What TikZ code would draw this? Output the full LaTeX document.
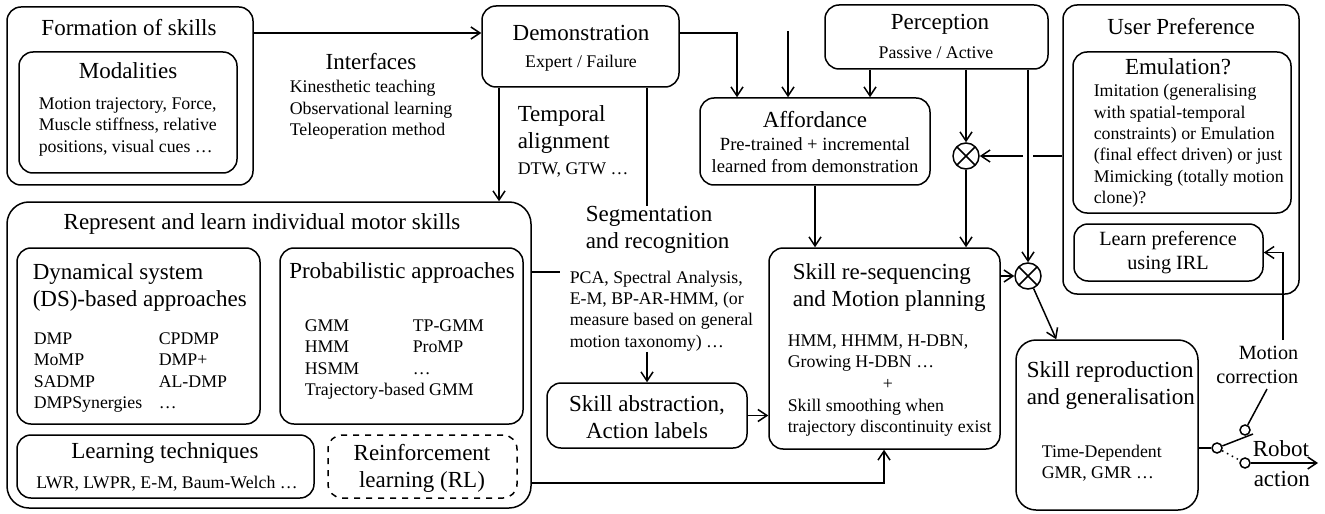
\documentclass[tikz,border=0pt]{standalone}
\usepackage{fontspec}
\setmainfont{Liberation Serif}
\usetikzlibrary{arrows.meta,fit,calc}

\tikzset{
  box/.style={draw, rounded corners=7pt, inner sep=0pt},
  head/.style={font=\fontsize{11.5}{13.5}\selectfont, align=center, inner sep=0pt},
  midtxt/.style={font=\fontsize{10.1}{12}\selectfont, align=center, inner sep=0pt},
  txt/.style={font=\fontsize{8.9}{10.7}\selectfont, align=left, inner sep=0pt},
  mix/.style={draw, circle, minimum size=13pt, inner sep=0pt,
    path picture={\draw (path picture bounding box.north west) -- (path picture bounding box.south east)
      (path picture bounding box.north east) -- (path picture bounding box.south west);}},
  contact/.style={draw, circle, minimum size=5pt, inner sep=0pt}
}

\begin{document}
\begin{tikzpicture}[x=0.5pt, y=-0.5pt, line width=0.75pt, >={Straight Barb[length=4.5pt,width=6pt]}]
\useasboundingbox (0,0) rectangle (1325,513);

% formation of skills
\node[box, fit={(7,7) (253,185)}] (form) {};
\node[head] (formT) at (129,28) {Formation of skills};
\node[box, fit={(19,52) (237,173)}] (modal) {};
\node[head] (modalT) at (128,71) {Modalities};
\node[txt, anchor=west] (modalL) at (38,127) {Motion trajectory, Force,\\Muscle stiffness, relative\\positions, visual cues …};
\node[head] (intT) at (371,62) {Interfaces};
\node[txt, anchor=west] (intL) at (289,110) {Kinesthetic teaching\\Observational learning\\Teleoperation method};

% demonstration
\node[box, fit={(482,6) (679,87)}] (demo) {};
\node[head] (demoT) at (581,33) {Demonstration};
\node[txt] (demoS) at (581,63) {Expert / Failure};
\node[head, align=left, anchor=west] (temp) at (517,130) {Temporal\\alignment};
\node[txt, anchor=west] (tempS) at (517,170) {DTW, GTW …};
\node[head, align=left, anchor=west] (seg) at (585,230) {Segmentation\\and recognition};
\node[txt, anchor=west] (pca) at (569,311) {PCA, Spectral Analysis,\\E-M, BP-AR-HMM, (or\\measure based on general\\motion taxonomy) …};

% affordance, perception
\node[box, fit={(700,98) (930,185)}] (aff) {};
\node[head] (affT) at (815,120) {Affordance};
\node[txt, align=center, font=\fontsize{9.3}{10.7}\selectfont] (affS) at (815,155) {Pre-trained + incremental\\learned from demonstration};
\node[box, fit={(825,5) (1048,69)}] (percep) {};
\node[head] (percepT) at (940,24) {Perception};
\node[txt] (percepS) at (936,53) {Passive / Active};
\node[mix] (c1) at (966,156) {};
\node[mix] (c2) at (1028,276) {};

% user preference
\node[box, fit={(1063,5) (1299,294)}] (upref) {};
\node[head] (uprefT) at (1181,27) {User Preference};
\node[box, fit={(1073,52) (1291,213)}] (emu) {};
\node[head] (emuT) at (1178,67) {Emulation?};
\node[txt, anchor=west] (emuL) at (1093,146) {Imitation (generalising\\with spatial-temporal\\constraints) or Emulation\\(final effect driven) or just\\Mimicking (totally motion\\clone)?};
\node[box, fit={(1074,224) (1263,281)}] (lpref) {};
\node[midtxt] (lprefT) at (1168,253) {Learn preference\\using IRL};

% represent and learn
\node[box, rounded corners=11pt, fit={(7,202) (531,508)}] (rep) {};
\node[head] (repT) at (262,224) {Represent and learn individual motor skills};
\node[box, fit={(17,248) (260,424)}] (ds) {};
\node[head, align=left, anchor=west] (dsT) at (32,287) {Dynamical system\\(DS)-based approaches};
\node[txt, anchor=north west] (dsA) at (33,332) {DMP\\MoMP\\SADMP\\DMPSynergies};
\node[txt, anchor=north west] (dsB) at (158,332) {CPDMP\\DMP+\\AL-DMP\\…};
\node[box, fit={(280,248) (523,424)}] (prob) {};
\node[head] (probT) at (402,273) {Probabilistic approaches};
\node[txt, anchor=north west] (probA) at (304,319) {GMM\\HMM\\HSMM\\Trajectory-based GMM};
\node[txt, anchor=north west] (probB) at (412,319) {TP-GMM\\ProMP\\…};
\node[box, fit={(17,435) (314,498)}] (lt) {};
\node[head] (ltT) at (165,453) {Learning techniques};
\node[txt] (ltS) at (167,484) {LWR, LWPR, E-M, Baum-Welch …};
\node[box, dashed, fit={(328,435) (517,498)}] (rl) {};
\node[head] (rlT) at (422,468) {Reinforcement\\learning (RL)};

% abstraction, re-sequencing
\node[box, fit={(547,383) (747,448)}] (abs) {};
\node[head] (absT) at (647,417) {Skill abstraction,\\Action labels};
\node[box, fit={(769,248) (1000,449)}] (reseq) {};
\node[head, align=left, anchor=west] (reseqT) at (792,288) {Skill re-sequencing\\and Motion planning};
\node[txt, anchor=west] (reseqA) at (787,353) {HMM, HHMM, H-DBN,\\Growing H-DBN …};
\node[txt] (plus) at (888,384) {+};
\node[txt, anchor=west] (reseqB) at (787,418) {Skill smoothing when\\trajectory discontinuity exist};

% reproduction and switch
\node[box, rounded corners=10pt, fit={(1016,340) (1198,510)}] (rep2) {};
\node[head, align=left, anchor=west] (rep2T) at (1026,385) {Skill reproduction\\and generalisation};
\node[txt, anchor=west] (rep2S) at (1041,463) {Time-Dependent\\GMR, GMR …};
\node[contact] (swA) at (1217,448) {};
\node[contact] (swB) at (1245,430) {};
\node[contact] (swC) at (1245,463) {};
\node[midtxt, align=right, anchor=east] (mcT) at (1299,365) {Motion\\correction};
\node[head, anchor=base west] (robot) at (1252,456) {Robot};
\node[head, anchor=west] (action) at (1253,479) {action};

\coordinate (dx) at (499,0);
\coordinate (sx) at (647,0);
\coordinate (ax) at (737,0);
\coordinate (fr) at (788,31);
\coordinate (pa) at (870,0);
\coordinate (px) at (560,272);
\coordinate (rlx) at (884,483);
\coordinate (mc) at (1283,340);
\coordinate (mcl) at (1267,389);
\coordinate (arm) at (1253,434);
\coordinate (out) at (1318,463);

% connectors
\draw[->] (demoT -| form.east) -- (demoT -| demo.west);
\draw[->] (demo.south -| dx) -- (rep.north -| dx);
\draw (demo.south -| sx) -- (seg.north -| sx);
\draw[->] (demoT -| demo.east) -| (ax |- aff.north);
\draw[->] (fr) -- (fr |- aff.north);
\draw[->] (percep.south -| pa) -- (pa |- aff.north);
\draw[->] (percep.south -| c1) -- (c1);
\draw[->] (percep.south -| c2) -- (c2);
\draw (upref.west |- c1) -- ($(c2 |- c1)+(5,0)$);
\draw[->] ($(c2 |- c1)+(-5,0)$) -- (c1);
\draw[->] (aff.south) -- (aff.south |- reseq.north);
\draw[->] (c1) -- (c1 |- reseq.north);
\draw (rep.east |- px) -- (px);
\draw[->] (pca.south -| abs.north) -- (abs.north);
\draw[->] (abs.east) -- (abs.east -| reseq.west);
\draw[->] (rep.east |- rlx) -| (reseq.south -| rlx);
\draw[->] (reseq.east |- c2) -- (c2);
\draw[->] (c2) -- ($(rep2.north west)+(41,0)$);
\draw[->] (mc) |- (lpref.east);
\draw (rep2.east |- swA) -- (swA);
\draw (swA) -- (arm);
\draw (swB) -- (mcl);
\draw[dotted] (swA) -- (swC);
\draw[->] (swC) -- (out);
\end{tikzpicture}
\end{document}
